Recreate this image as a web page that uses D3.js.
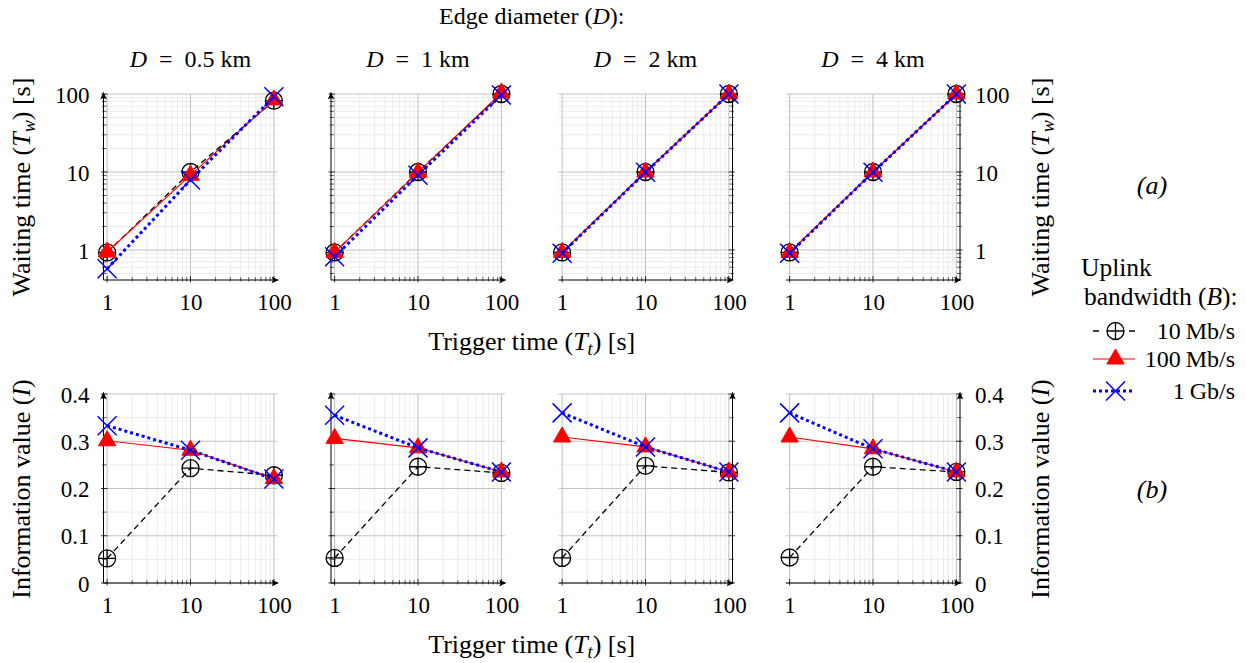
<!DOCTYPE html>
<html><head><meta charset="utf-8">
<script src="https://cdn.jsdelivr.net/npm/d3@7"></script>
<style>
body{margin:0;background:#fff}
svg{display:block}
text{font-family:"Liberation Serif","Times New Roman",serif;fill:#000}
</style>
</head><body><svg id="c" width="1246" height="663"></svg>
<script>
// ---------------- data ----------------
const xValues = [1, 10, 100];
const xTickValues = [1, 10, 100];
const xTickLabels = ["1", "10", "100"];
const waitTickValues = [1, 10, 100];
const waitTickLabels = ["1", "10", "100"];
const infoTickValues = [0, 0.1, 0.2, 0.3, 0.4];
const infoTickLabels = ["0", "0.1", "0.2", "0.3", "0.4"];
const diameters = ["0.5", "1", "2", "4"];
const seriesLabels = ["10\u2009Mb/s", "100\u2009Mb/s", "1\u2009Gb/s"];
// waiting time T_w per diameter panel (x = 1, 10, 100)
const wait10Mb  = [[0.93, 10, 82],  [0.93, 10, 100],  [0.93, 10, 100], [0.93, 10, 100]];
const wait100Mb = [[0.94, 9.1, 84], [0.93, 9.9, 103], [0.93, 10, 100], [0.93, 10, 100]];
const wait1Gb   = [[0.575, 7.9, 92],[0.82, 9.1, 97],  [0.91, 9.9, 100],[0.91, 9.9, 100]];
// information value I per diameter panel
const info10Mb  = [[0.052, 0.243, 0.228], [0.053, 0.246, 0.233], [0.053, 0.248, 0.234], [0.054, 0.246, 0.235]];
const info100Mb = [[0.301, 0.281, 0.221], [0.306, 0.286, 0.235], [0.309, 0.288, 0.235], [0.309, 0.284, 0.235]];
const info1Gb   = [[0.333, 0.281, 0.220], [0.355, 0.286, 0.235], [0.360, 0.288, 0.235], [0.360, 0.284, 0.235]];

// ---------------- layout ----------------
const svg = d3.select("#c");
const PL = 103.5, PS = 227.5, PW = 174;
const TICK_FS = 23, TITLE_FS = 24, LAB_FS = 26;
const rowDefs = [
  {top: 94, bottom: 280, log: true, domain: [0.412, 100], ticks: waitTickValues, labels: waitTickLabels,
   data: [wait10Mb, wait100Mb, wait1Gb]},
  {top: 394, bottom: 583, log: false, domain: [0, 0.4], ticks: infoTickValues, labels: infoTickLabels,
   data: [info10Mb, info100Mb, info1Gb]}
];
const styles = [
  {color: "#000", width: 1.3, dash: "6,4", mark: "oplus"},
  {color: "#ff0000", width: 1.2, dash: null, mark: "triangle"},
  {color: "#0000ff", width: 3, dash: "3,3", mark: "cross"}
];
const MAJOR_GRID = "#c4c4c4", MINOR_GRID = "#ececec";

function arrowPath(x, y, dir) {
  if (dir === "right") return `M${x},${y} L${x-7.5},${y-3.3} Q${x-5},${y} ${x-7.5},${y+3.3} Z`;
  return `M${x},${y} L${x-3.3},${y+7.5} Q${x},${y+5} ${x+3.3},${y+7.5} Z`;
}

function drawMark(g, type, cx, cy, color) {
  if (type === "oplus") {
    const r = 8.5;
    g.append("circle").attr("cx", cx).attr("cy", cy).attr("r", r)
      .attr("fill", "none").attr("stroke", color).attr("stroke-width", 1.3);
    g.append("path").attr("d", `M${cx-r},${cy} H${cx+r} M${cx},${cy-r} V${cy+r}`)
      .attr("stroke", color).attr("stroke-width", 1.3).attr("fill", "none");
  } else if (type === "triangle") {
    const r = 10;
    const pts = [[cx, cy - r], [cx - r*0.866, cy + r*0.5], [cx + r*0.866, cy + r*0.5]];
    g.append("path").attr("d", "M" + pts.map(p => p.join(",")).join("L") + "Z")
      .attr("fill", color).attr("stroke", color).attr("stroke-width", 1);
  } else {
    const r = 9.5;
    g.append("path").attr("d", `M${cx-r},${cy-r} L${cx+r},${cy+r} M${cx-r},${cy+r} L${cx+r},${cy-r}`)
      .attr("stroke", color).attr("stroke-width", 1.5).attr("fill", "none");
  }
}

rowDefs.forEach((row, ri) => {
  diameters.forEach((dm, i) => {
    const left = PL + i * PS, right = left + PW;
    const g = svg.append("g");
    const x = d3.scaleLog().domain([0.905, 110.5]).range([left, right]);
    const y = row.log ? d3.scaleLog().domain(row.domain).range([row.bottom, row.top])
                      : d3.scaleLinear().domain(row.domain).range([row.bottom, row.top]);
    const xMinor = [];
    [1, 10].forEach(d => { for (let k = 2; k <= 9; k++) xMinor.push(d * k); });
    const yMinor = [];
    if (row.log) {
      [0.1, 1, 10].forEach(d => { for (let k = 2; k <= 9; k++) { const v = d * k; if (v >= row.domain[0] && v <= row.domain[1]) yMinor.push(v); } });
    } else {
      [0.05, 0.15, 0.25, 0.35].forEach(v => yMinor.push(v));
    }
    // grid
    const grid = g.append("g");
    xMinor.forEach(v => grid.append("line").attr("x1", x(v)).attr("x2", x(v)).attr("y1", row.top).attr("y2", row.bottom)
      .attr("stroke", MINOR_GRID).attr("stroke-width", 1));
    yMinor.forEach(v => grid.append("line").attr("y1", y(v)).attr("y2", y(v)).attr("x1", left).attr("x2", right)
      .attr("stroke", MINOR_GRID).attr("stroke-width", 1));
    xTickValues.forEach(v => grid.append("line").attr("x1", x(v)).attr("x2", x(v)).attr("y1", row.top).attr("y2", row.bottom)
      .attr("stroke", MAJOR_GRID).attr("stroke-width", 1.1));
    row.ticks.forEach(v => grid.append("line").attr("y1", y(v)).attr("y2", y(v)).attr("x1", left).attr("x2", right)
      .attr("stroke", MAJOR_GRID).attr("stroke-width", 1.1));

    // axes lines
    const yAxX = i < 2 ? left : right;
    const inward = i < 2 ? 1 : -1;
    const ax = g.append("g").attr("stroke", "#000").attr("fill", "none");
    ax.append("line").attr("x1", left).attr("x2", right).attr("y1", row.bottom).attr("y2", row.bottom).attr("stroke-width", 1);
    ax.append("line").attr("x1", yAxX).attr("x2", yAxX).attr("y1", row.bottom).attr("y2", row.top - 1.5).attr("stroke-width", 1);
    xTickValues.forEach(v => ax.append("line").attr("x1", x(v)).attr("x2", x(v)).attr("y1", row.bottom + 2.5).attr("y2", row.bottom - 4).attr("stroke-width", 0.8));
    xMinor.forEach(v => ax.append("line").attr("x1", x(v)).attr("x2", x(v)).attr("y1", row.bottom + 1.5).attr("y2", row.bottom - 3).attr("stroke-width", 0.6));
    row.ticks.forEach(v => ax.append("line").attr("y1", y(v)).attr("y2", y(v)).attr("x1", yAxX - 2.5 * inward).attr("x2", yAxX + 4 * inward).attr("stroke-width", 0.8));
    yMinor.forEach(v => ax.append("line").attr("y1", y(v)).attr("y2", y(v)).attr("x1", yAxX - 1.5 * inward).attr("x2", yAxX + 3 * inward).attr("stroke-width", 0.6));
    g.append("path").attr("d", arrowPath(right + 1.5, row.bottom, "right")).attr("fill", "#000");
    g.append("path").attr("d", arrowPath(yAxX, row.top - 2, "up")).attr("fill", "#000");

    // tick labels via d3 axes
    const xAx = g.append("g").attr("transform", `translate(0,${row.bottom})`)
      .call(d3.axisBottom(x).tickValues(xTickValues).tickFormat((d, k) => xTickLabels[k]).tickSize(0).tickPadding(0));
    xAx.select(".domain").remove();
    xAx.selectAll("text").attr("y", 30).attr("dy", 0).style("font-size", TICK_FS + "px")
      .style("font-family", "'Liberation Serif',serif").attr("fill", "#000");
    if (i === 0 || i === 3) {
      const yAxisGen = (i === 0 ? d3.axisLeft(y) : d3.axisRight(y))
        .tickValues(row.ticks).tickFormat((d, k) => row.labels[k]).tickSize(0).tickPadding(i === 0 ? 14 : 15);
      const yAx = g.append("g").attr("transform", `translate(${yAxX},0)`).call(yAxisGen);
      yAx.select(".domain").remove();
      yAx.selectAll("text").attr("dy", "0.35em").style("font-size", TICK_FS + "px")
        .style("font-family", "'Liberation Serif',serif").attr("fill", "#000");
    }

    // series
    row.data.forEach((series, si) => {
      const vals = series[i];
      const st = styles[si];
      const pts = xValues.map((xv, k) => [x(xv), y(vals[k])]);
      const p = g.append("path").attr("d", d3.line()(pts)).attr("fill", "none")
        .attr("stroke", st.color).attr("stroke-width", st.width);
      if (st.dash) p.attr("stroke-dasharray", st.dash);
      pts.forEach(pt => drawMark(g, st.mark, pt[0], pt[1], st.color));
    });

    // panel titles
    if (ri === 0) {
      const t = svg.append("text").attr("x", (left + right) / 2).attr("y", 67).attr("text-anchor", "middle")
        .style("font-size", TITLE_FS + "px");
      t.append("tspan").attr("font-style", "italic").text("D");
      t.append("tspan").text("\u2002=\u2002" + dm + "\u2005km");
    }
  });
});

// ------------- global labels -------------
const midX = (PL + PL + 3 * PS + PW) / 2;
const title = svg.append("text").attr("x", midX).attr("y", 24).attr("text-anchor", "middle").style("font-size", TITLE_FS + "px");
title.append("tspan").text("Edge diameter (");
title.append("tspan").attr("font-style", "italic").text("D");
title.append("tspan").text("):");

function xLabel(yb) {
  const t = svg.append("text").attr("x", midX).attr("y", yb).attr("text-anchor", "middle").style("font-size", LAB_FS + "px");
  t.append("tspan").text("Trigger time (");
  t.append("tspan").attr("font-style", "italic").text("T");
  t.append("tspan").attr("font-style", "italic").attr("font-size", "0.7em").attr("dy", "0.25em").text("t");
  t.append("tspan").attr("dy", "-0.175em").text(") [s]");
}
xLabel(350);
xLabel(653);

function yLabel(xb, yc, kind) {
  const t = svg.append("text").attr("transform", `translate(${xb},${yc}) rotate(-90)`).attr("text-anchor", "middle")
    .style("font-size", LAB_FS + "px");
  if (kind === "wait") {
    t.append("tspan").text("Waiting time (");
    t.append("tspan").attr("font-style", "italic").text("T");
    t.append("tspan").attr("font-style", "italic").attr("font-size", "0.7em").attr("dy", "0.25em").text("w");
    t.append("tspan").attr("dy", "-0.175em").text(") [s]");
  } else {
    t.append("tspan").text("Information value (");
    t.append("tspan").attr("font-style", "italic").text("I");
    t.append("tspan").text(")");
  }
}
yLabel(30, 187, "wait");
yLabel(30, 489, "info");
yLabel(1049, 187, "wait");
yLabel(1049, 489, "info");

svg.append("text").attr("x", 1152).attr("y", 194).attr("text-anchor", "middle").attr("font-style", "italic")
  .style("font-size", "26px").text("(a)");
svg.append("text").attr("x", 1152).attr("y", 498).attr("text-anchor", "middle").attr("font-style", "italic")
  .style("font-size", "26px").text("(b)");

// ------------- legend -------------
const lg = svg.append("g");
lg.append("text").attr("x", 1081).attr("y", 276).style("font-size", "25.5px").text("Uplink");
const bt = lg.append("text").attr("x", 1084).attr("y", 305).style("font-size", "25.5px");
bt.append("tspan").text("bandwidth (");
bt.append("tspan").attr("font-style", "italic").text("B");
bt.append("tspan").text("):");
const legY = [331, 359, 391];
seriesLabels.forEach((lab, si) => {
  const st = styles[si];
  const yy = legY[si];
  const p = lg.append("line").attr("x1", 1093).attr("x2", 1135).attr("y1", yy).attr("y2", yy)
    .attr("stroke", st.color).attr("stroke-width", st.width);
  if (st.dash) p.attr("stroke-dasharray", si === 0 ? "6,30,6" : st.dash);
  drawMark(lg, st.mark, 1115.5, yy, st.color);
  lg.append("text").attr("x", 1235).attr("y", yy).attr("dy", "0.35em").attr("text-anchor", "end")
    .style("font-size", TITLE_FS + "px").text(lab);
});
</script>
</body></html>
